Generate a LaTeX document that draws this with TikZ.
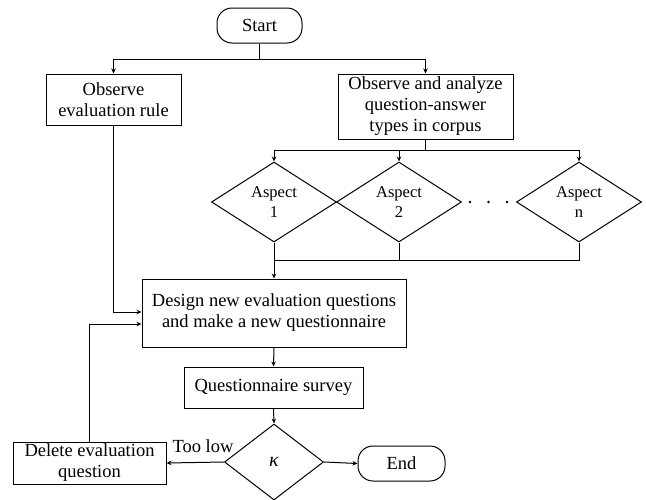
\documentclass[tikz,border=0pt]{standalone}
\usepackage{fontspec}
\setmainfont{Liberation Serif}
\usetikzlibrary{shapes.geometric,arrows.meta}
\begin{document}
\begin{tikzpicture}[x=1pt,y=-1pt,
  box/.style={draw, line width=1pt, inner sep=0pt, align=center, font=\fontsize{18.5}{21}\selectfont},
  term/.style={box, rounded corners=15pt},
  dia/.style={draw, shape=diamond, line width=1pt, inner sep=0pt, align=center, font=\fontsize{16.5}{20}\selectfont},
  arr/.style={-{Stealth[length=5pt,width=4.5pt]}, line width=1pt},
  ln/.style={line width=1pt}]
\useasboundingbox (0,0) rectangle (646,499);
\fill[white] (0,0) rectangle (646,499);

\node[term, minimum width=85pt, minimum height=35pt] (start) at (259.5,25.5) {Start};
\node[box, minimum width=135pt, minimum height=51pt] (obs) at (113.5,99.5) {Observe\\evaluation rule};
\node[box, minimum width=175pt, minimum height=65pt] (ana) at (425.5,106.5) {Observe and analyze\\question-answer\\types in corpus};

\node[dia, minimum width=125pt, minimum height=80pt] (a1) at (274,202) {Aspect\\1};
\node[dia, minimum width=125pt, minimum height=80pt] (a2) at (399,202) {Aspect\\2};
\node[dia, minimum width=125pt, minimum height=80pt] (an) at (579,202) {Aspect\\n};
\fill (470,202) circle (1.3pt);
\fill (488.5,202) circle (1.3pt);
\fill (507,202) circle (1.3pt);

\node[box, minimum width=264pt, minimum height=68pt] (design) at (274,313) {Design new evaluation questions\\and make a new questionnaire};
\node[box, minimum width=179pt, minimum height=41pt] (survey) at (273.5,387.5) {Questionnaire survey};
\node[dia, minimum width=99pt, minimum height=76pt, font=\fontsize{20}{20}\selectfont] (kappa) at (274,462) {\textit{κ}};
\node[box, minimum width=153pt, minimum height=42pt] (delete) at (89.5,463) {Delete evaluation\\question};
\node[term, minimum width=87pt, minimum height=35pt] (end) at (401.5,463.5) {End};
\node[font=\fontsize{18.5}{21}\selectfont, inner sep=0pt] (tl) at (203,446) {Too low};

% top fork
\coordinate (f0) at (start.south |- 0,59);
\draw[ln] (start.south) -- (f0);
\draw[arr] (f0) -| (obs.north);
\draw[arr] (f0) -| (ana.north);

% aspect fork
\coordinate (f1) at (ana.south |- 0,150);
\draw[ln] (ana.south) -- (f1);
\draw[arr] (f1) -| (a1.north);
\draw[arr] (f1) -| (an.north);
\draw[arr] (a2.north |- f1) -- (a2.north);

% join
\coordinate (j1) at (a1.south |- 0,260);
\draw[ln] (a1.south) -- (j1) -| (an.south);
\draw[ln] (a2.south) -- (a2.south |- j1);
\draw[arr] (j1) -- (design.north);

% left inputs
\draw[arr] (obs.south) |- (design.west |- 0,312);
\draw[arr] (delete.north) |- (design.west |- 0,324);

\draw[arr] (design.south) -- (survey.north);
\draw[arr] (survey.south) -- (kappa.north);
\draw[arr] (kappa.west) -- (delete.east);
\draw[arr] (kappa.east) -- (end.west);
\end{tikzpicture}
\end{document}
